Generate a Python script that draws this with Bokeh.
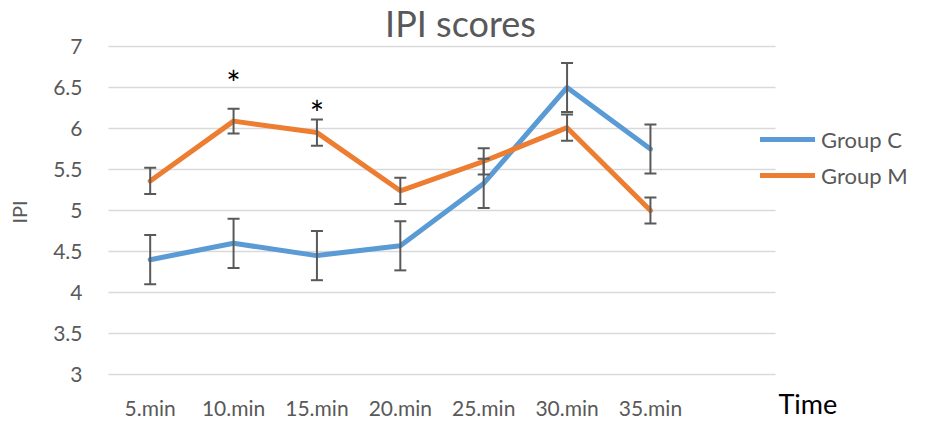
from bokeh.plotting import figure
from bokeh.models import (ColumnDataSource, Range1d, FixedTicker, NumeralTickFormatter,
                          LinearAxis, Grid, Whisker, TeeHead, Legend, LegendItem, Label)
from bokeh.core.properties import value
from bokeh.embed import file_html
from bokeh.resources import INLINE

# IPI scores over time for two groups (mean and error)
times = ["5.min", "10.min", "15.min", "20.min", "25.min", "30.min", "35.min"]
group_c_mean = [4.40, 4.60, 4.45, 4.57, 5.33, 6.50, 5.75]
group_c_err = [0.30, 0.30, 0.30, 0.30, 0.30, 0.30, 0.30]
group_m_mean = [5.36, 6.09, 5.95, 5.24, 5.60, 6.01, 5.00]
group_m_err = [0.16, 0.15, 0.16, 0.16, 0.16, 0.16, 0.16]
# significance markers
star_times = ["10.min", "15.min"]
star_levels = [6.65, 6.28]
y_ticks = [3, 3.5, 4, 4.5, 5, 5.5, 6, 6.5, 7]

FONT = "Lato"
GREY = "#595959"
BLUE = "#5B9BD5"
ORANGE = "#ED7D31"

# page geometry (pixels): the plotting area sits inside a full-page canvas
W, H = 928, 423
AREA_L, AREA_R, AREA_T, AREA_B = 108, 775, 46, 374

xs = list(range(1, len(times) + 1))
pos = dict(zip(times, xs))
x_lo, x_hi = 0.5, len(times) + 1.5          # one empty slot after the last time
y_lo, y_hi = y_ticks[0], y_ticks[-1]
px_x = (AREA_R - AREA_L) / (x_hi - x_lo)
px_y = (AREA_B - AREA_T) / (y_hi - y_lo)

p = figure(width=W, height=H, output_backend="svg", toolbar_location=None,
           x_axis_location=None, y_axis_location=None,
           x_range=Range1d(x_lo - AREA_L / px_x, x_hi + (W - AREA_R) / px_x),
           y_range=Range1d(y_lo - (H - AREA_B) / px_y, y_hi + AREA_T / px_y),
           min_border=0)
p.center = [c for c in p.center if not isinstance(c, Grid)]
p.outline_line_color = None
p.background_fill_color = "white"
p.border_fill_color = "white"

# horizontal gridlines across the plotting area
p.segment(x0=[x_lo] * len(y_ticks), x1=[x_hi] * len(y_ticks), y0=y_ticks, y1=y_ticks,
          line_color="#D9D9D9", line_width=1.5)

# axes pinned to the edges of the plotting area
xaxis = LinearAxis(fixed_location=y_lo, ticker=FixedTicker(ticks=xs),
                   major_label_overrides={x: t for x, t in zip(xs, times)})
yaxis = LinearAxis(fixed_location=x_lo, ticker=FixedTicker(ticks=y_ticks),
                   formatter=NumeralTickFormatter(format="0.[0]"), axis_label="IPI")
for ax in (xaxis, yaxis):
    ax.axis_line_color = None
    ax.major_tick_line_color = None
    ax.minor_tick_line_color = None
    ax.major_tick_out = 0
    ax.major_tick_in = 0
    ax.major_label_text_font = FONT
    ax.major_label_text_color = GREY
xaxis.major_label_text_font_size = "21px"
xaxis.major_label_standoff = 20
yaxis.major_label_text_font_size = "21px"
yaxis.major_label_standoff = 26
yaxis.axis_label_text_font = FONT
yaxis.axis_label_text_font_size = "20px"
yaxis.axis_label_text_font_style = "normal"
yaxis.axis_label_text_color = GREY
yaxis.axis_label_standoff = 19
p.add_layout(xaxis, "below")
p.add_layout(yaxis, "left")

src = ColumnDataSource(dict(
    x=xs,
    c=group_c_mean,
    c_lo=[m - e for m, e in zip(group_c_mean, group_c_err)],
    c_hi=[m + e for m, e in zip(group_c_mean, group_c_err)],
    m=group_m_mean,
    m_lo=[m - e for m, e in zip(group_m_mean, group_m_err)],
    m_hi=[m + e for m, e in zip(group_m_mean, group_m_err)],
))

r_c = p.line("x", "c", source=src, line_color=BLUE, line_width=5,
             line_join="round", line_cap="round")
r_m = p.line("x", "m", source=src, line_color=ORANGE, line_width=5,
             line_join="round", line_cap="round")

for lo, hi in (("c_lo", "c_hi"), ("m_lo", "m_hi")):
    w = Whisker(source=src, base="x", lower=lo, upper=hi,
                line_color=GREY, line_width=2, level="annotation",
                upper_head=TeeHead(size=12, line_color=GREY, line_width=2),
                lower_head=TeeHead(size=12, line_color=GREY, line_width=2))
    p.add_layout(w)

p.text(x=[pos[t] for t in star_times], y=star_levels, text=["*"] * len(star_times),
       text_font=value(FONT), text_font_size="34px", text_color="black",
       text_align="center", text_baseline="middle", y_offset=7)

legend = Legend(items=[LegendItem(label="Group C", renderers=[r_c]),
                       LegendItem(label="Group M", renderers=[r_m])],
                location=(760, 233))
legend.border_line_color = None
legend.background_fill_alpha = 0
legend.padding = 0
legend.margin = 0
legend.glyph_width = 55
legend.glyph_height = 30
legend.label_height = 30
legend.spacing = 6
legend.label_standoff = 6
legend.label_text_font = FONT
legend.label_text_font_size = "22px"
legend.label_text_color = GREY
p.add_layout(legend)

p.add_layout(Label(x=460, y=H - 22, x_units="screen", y_units="screen",
                   text="IPI scores", text_font=FONT, text_font_size="36px",
                   text_color=GREY, text_align="center", text_baseline="alphabetic"))
p.add_layout(Label(x=778, y=H - 403, x_units="screen", y_units="screen",
                   text="Time", text_font=FONT, text_font_size="27px",
                   text_color="black", text_align="left", text_baseline="alphabetic"))

open("out.html", "w").write(file_html(p, INLINE))
